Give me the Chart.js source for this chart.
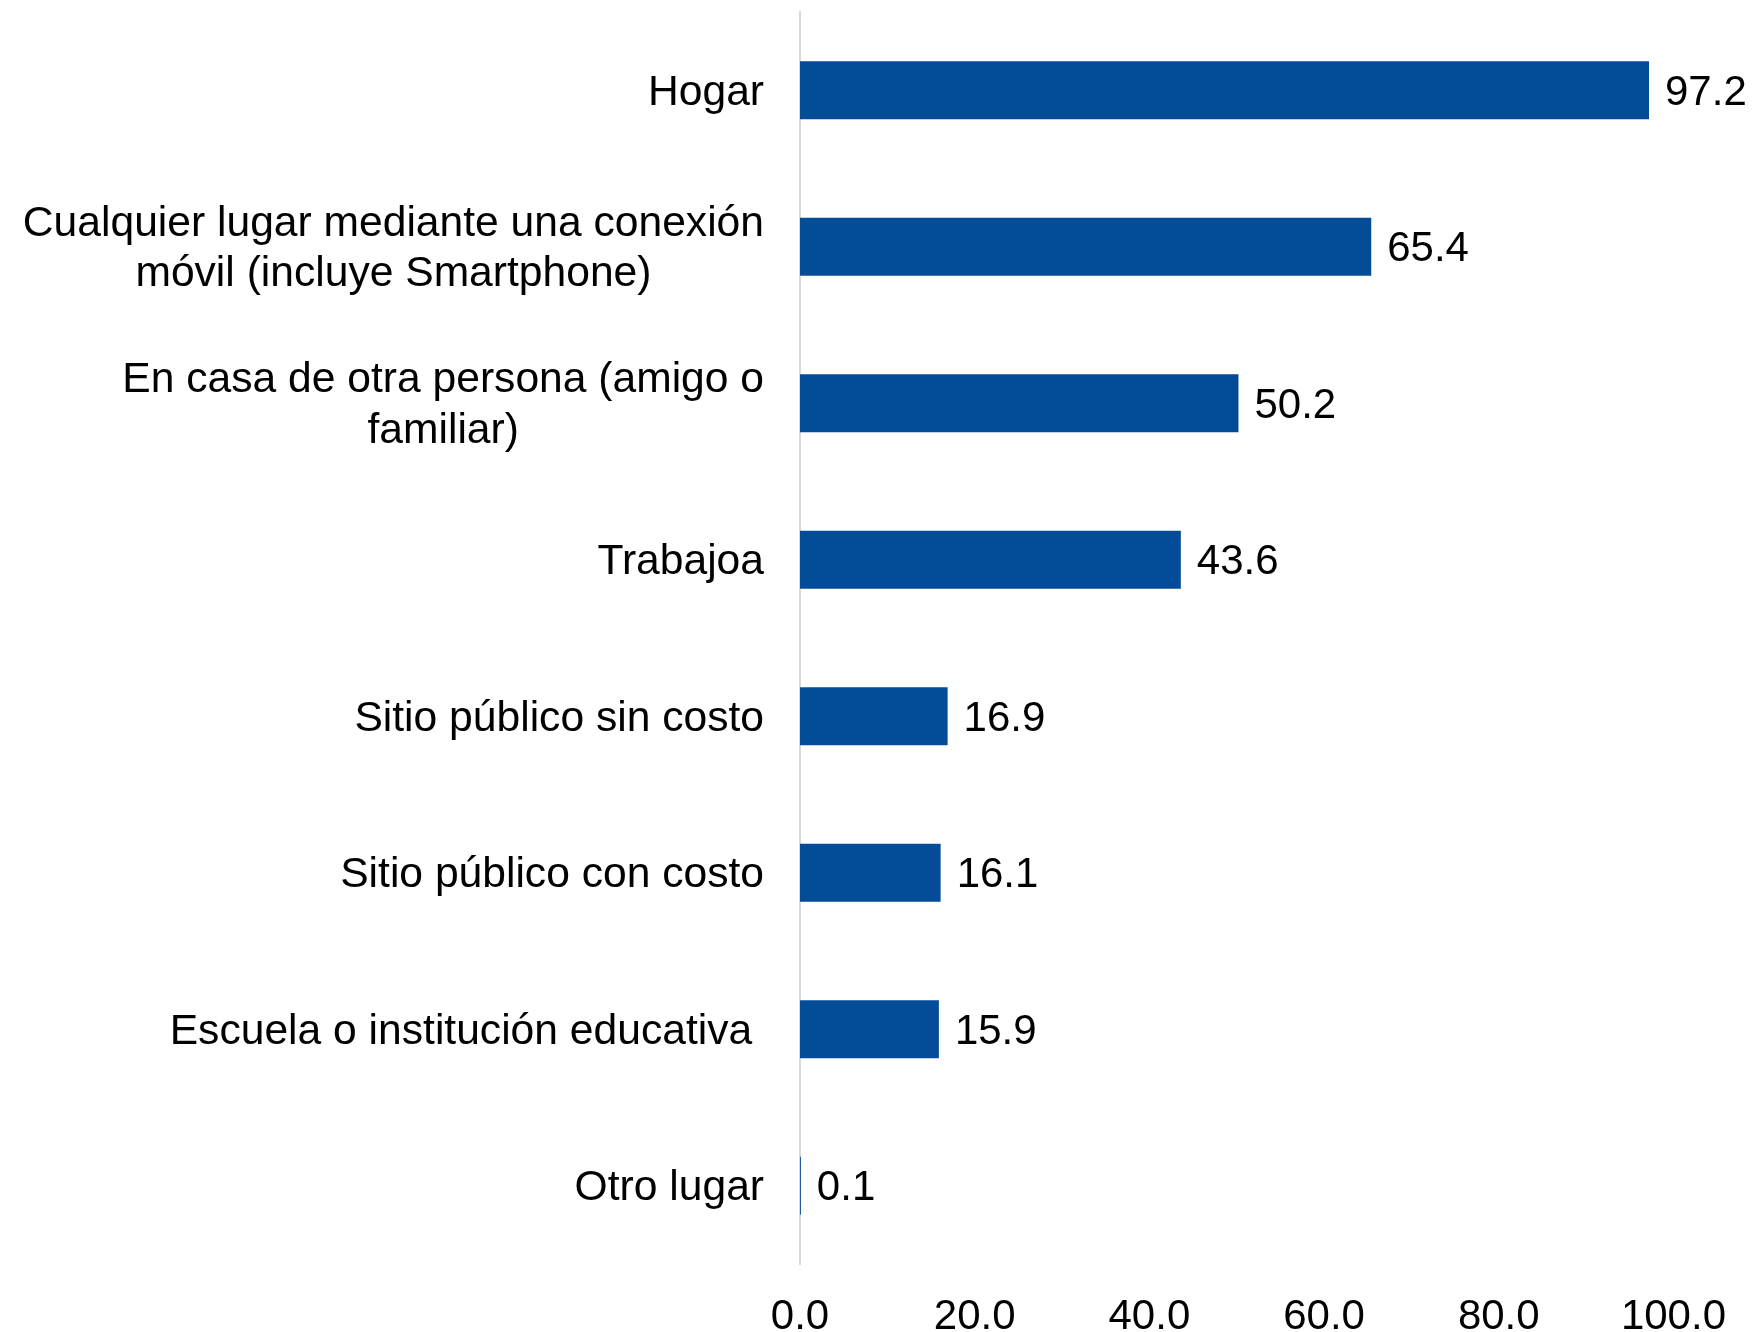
<!DOCTYPE html>
<html>
<head>
<meta charset="utf-8">
<script src="https://cdn.jsdelivr.net/npm/chart.js"></script>
<style>
  html, body { margin: 0; padding: 0; background: #fff; }
  #wrap { width: 1754px; height: 1332px; position: relative; }
</style>
</head>
<body>
<div id="wrap"><canvas id="chart"></canvas></div>
<script>
// data
const categories = [
  'Hogar',
  ['Cualquier lugar mediante una conexión', 'móvil (incluye Smartphone)'],
  ['En casa de otra persona (amigo o', 'familiar)'],
  'Trabajoa',
  'Sitio público sin costo',
  'Sitio público con costo',
  'Escuela o institución educativa ',
  'Otro lugar'
];
const values = [97.2, 65.4, 50.2, 43.6, 16.9, 16.1, 15.9, 0.1];
const xTicks = [0, 20, 40, 60, 80, 100];

const FONT = "'Liberation Sans', Arial, sans-serif";
const BAR_COLOR = '#044b98';

Chart.defaults.font.family = FONT;

// category labels: block right-aligned, lines centred on each other
const categoryLabels = {
  id: 'categoryLabels',
  afterDraw(chart) {
    const ctx = chart.ctx;
    const yScale = chart.scales.y;
    const right = chart.chartArea.left - 36;
    ctx.save();
    ctx.font = '42.6px ' + FONT;
    ctx.fillStyle = '#000';
    ctx.textAlign = 'center';
    ctx.textBaseline = 'middle';
    chart.data.labels.forEach((lab, i) => {
      const lines = Array.isArray(lab) ? lab : [lab];
      const w = Math.max(...lines.map(l => ctx.measureText(l).width));
      const cx = right - w / 2;
      const cy = yScale.getPixelForValue(i) + 2.5;
      const lh = 50.5;
      lines.forEach((l, k) => {
        ctx.fillText(l, cx, cy + (k - (lines.length - 1) / 2) * lh);
      });
    });
    ctx.restore();
  }
};

// value labels at the end of each bar
const valueLabels = {
  id: 'valueLabels',
  afterDatasetsDraw(chart) {
    const ctx = chart.ctx;
    const meta = chart.getDatasetMeta(0);
    ctx.save();
    ctx.font = '42px ' + FONT;
    ctx.fillStyle = '#000';
    ctx.textAlign = 'left';
    ctx.textBaseline = 'middle';
    meta.data.forEach((bar, i) => {
      ctx.fillText(values[i].toFixed(1), bar.x + 16, bar.y + 3);
    });
    ctx.restore();
  }
};

new Chart(document.getElementById('chart').getContext('2d'), {
  type: 'bar',
  data: {
    labels: categories,
    datasets: [{
      data: values,
      backgroundColor: BAR_COLOR,
      borderWidth: 0,
      categoryPercentage: 0.37,
      barPercentage: 1
    }]
  },
  options: {
    indexAxis: 'y',
    responsive: true,
    maintainAspectRatio: false,
    animation: false,
    devicePixelRatio: 1,
    layout: { padding: { top: 12, right: 79, left: 0, bottom: 0 } },
    plugins: {
      legend: { display: false },
      tooltip: { enabled: false }
    },
    scales: {
      x: {
        min: 0,
        max: 100,
        afterBuildTicks: s => { s.ticks = xTicks.map(v => ({ value: v })); },
        afterFit: s => { s.height = 68; },
        grid: { display: false, drawTicks: false },
        border: { display: false },
        ticks: {
          padding: 28,
          color: '#000',
          font: { size: 42, lineHeight: 1.2 },
          callback: v => Number(v).toFixed(1)
        }
      },
      y: {
        afterFit: s => { s.width = 800; },
        grid: { display: false, drawTicks: false },
        border: { display: true, color: '#d9d9d9', width: 2 },
        ticks: { display: false }
      }
    }
  },
  plugins: [categoryLabels, valueLabels]
});
</script>
</body>
</html>
